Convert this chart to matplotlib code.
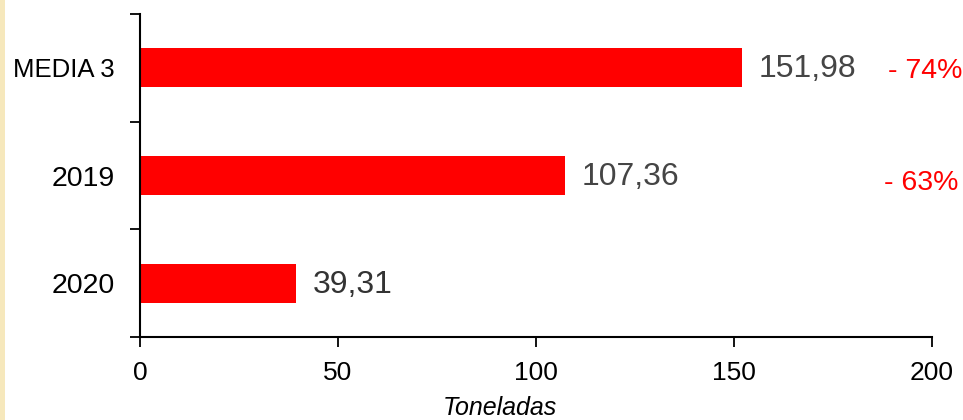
import matplotlib
matplotlib.use("Agg")
import matplotlib.pyplot as plt
from matplotlib.patches import Rectangle

plt.rcParams['font.family'] = ['Liberation Sans', 'DejaVu Sans']

categorias = ["MEDIA 3", "2019", "2020"]
toneladas = [151.98, 107.36, 39.31]
etiquetas = ["151,98", "107,36", "39,31"]
variaciones = ["- 74%", "- 63%"]

fig = plt.figure(figsize=(9.63, 4.2), dpi=100)
ax = fig.add_axes([140 / 963, 1 - 337 / 420, (932 - 140) / 963, (337 - 14) / 420])

# franja de fondo a la izquierda
fig.patches.append(Rectangle((0, 0), 5 / 963, 1, transform=fig.transFigure,
                             facecolor='#f6e8bc', edgecolor='none'))

pos = [2, 1, 0]
ax.barh(pos, toneladas, height=0.36, color='#ff0000')

colores_txt = ['#454545', '#454545', '#333333']
for p, v, txt, c in zip(pos, toneladas, etiquetas, colores_txt):
    ax.annotate(txt, (v, p), xytext=(12, -1), textcoords='offset points',
                ha='left', va='center', fontsize=23, color=c)

# variaciones respecto a 2020
ax.text(207.6, 2 - 0.03, variaciones[0], ha='right', va='center',
        fontsize=20.5, color='#ff0000', clip_on=False)
ax.text(206.6, 1 - 0.07, variaciones[1], ha='right', va='center',
        fontsize=20.5, color='#ff0000', clip_on=False)

ax.set_xlim(0, 200)
ax.set_ylim(-0.5, 2.5)
ax.set_xticks([0, 50, 100, 150, 200])
ax.tick_params(axis='x', labelsize=19, length=7, width=1.3, pad=10, direction='out')

ax.set_yticks(pos)
ax.set_yticklabels(categorias)
ax.tick_params(axis='y', which='major', labelsize=18.5, length=0, pad=18)
# los años se ven algo más grandes que el texto
for lbl in ax.get_yticklabels():
    if lbl.get_text() != "MEDIA 3":
        lbl.set_fontsize(20.5)
ax.set_yticks([-0.5, 0.5, 1.5, 2.5], minor=True)
ax.tick_params(axis='y', which='minor', length=7, width=1.3, direction='out')

for s in ['top', 'right']:
    ax.spines[s].set_visible(False)
for s in ['left', 'bottom']:
    ax.spines[s].set_linewidth(1.5)

fig.text(500 / 963, 1 - 408 / 420, "Toneladas", ha='center', va='center',
         fontsize=18, style='italic', color='black')

fig.savefig("out.png", dpi=100)
